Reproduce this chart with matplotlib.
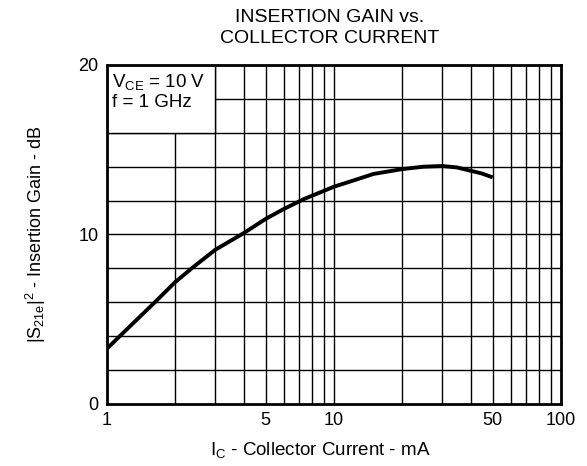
import matplotlib
matplotlib.use("Agg")
import matplotlib.pyplot as plt
from matplotlib.patches import Rectangle

plt.rcParams['font.family'] = ['Liberation Sans', 'DejaVu Sans']
plt.rcParams['mathtext.fontset'] = 'custom'
plt.rcParams['mathtext.rm'] = 'Liberation Sans'
plt.rcParams['mathtext.it'] = 'Liberation Sans'

# curve
ic_ma = [1, 1.3, 1.63, 2, 2.4, 3, 4, 5, 6, 7.4, 10, 12.6, 14.9, 20, 24.8, 30, 34.7, 40, 44.8, 50]
gain_db = [3.27, 4.75, 6.02, 7.2, 8.08, 9.1, 10.08, 10.92, 11.5, 12.1, 12.82, 13.25, 13.57,
           13.86, 14.0, 14.04, 13.96, 13.76, 13.6, 13.37]

x_ticks = [1, 5, 10, 50, 100]
x_grid = [2, 3, 4, 5, 6, 7, 8, 9, 10, 20, 30, 40, 50, 60, 70, 80, 90]
y_ticks = [0, 10, 20]
y_grid = [2, 4, 6, 8, 10, 12, 14, 16, 18]

fig = plt.figure(figsize=(5.87, 4.66), dpi=100)
ax = fig.add_axes([107/587, 1-404/466, (561-107)/587, (404-65)/466])
ax.set_xscale('log')
ax.set_xlim(1, 100)
ax.set_ylim(0, 20)

for xv in x_grid:
    ax.axvline(xv, color='black', lw=1.0, zorder=1)
for yv in y_grid:
    ax.axhline(yv, color='black', lw=1.0, zorder=1)

# white box behind the conditions text
ax.add_patch(Rectangle((1, 16), 2, 4, facecolor='white', edgecolor='black', lw=1.0, zorder=2))
ax.text(1.05, 19.6, r'V$_{\mathregular{CE}}$ = 10 V' + '\n' + 'f = 1 GHz', fontsize=13.5,
        va='top', ha='left', linespacing=1.2, zorder=3)

ax.plot(ic_ma, gain_db, color='black', lw=2.8, zorder=4, solid_capstyle='butt')

ax.set_xticks(x_ticks)
ax.set_xticklabels([str(v) for v in x_ticks])
ax.xaxis.set_minor_locator(matplotlib.ticker.NullLocator())
ax.set_yticks(y_ticks)
ax.tick_params(length=0, labelsize=13, pad=6)
for s in ax.spines.values():
    s.set_linewidth(2.0)

ax.set_xlabel(r'I$_{\mathregular{C}}$ - Collector Current - mA', fontsize=13.5, labelpad=8)
ax.xaxis.label.set_x(0.47)
ax.set_ylabel(r'|S$_{\mathregular{21e}}$|$^{\mathregular{2}}$ - Insertion Gain - dB', fontsize=13, labelpad=22)

fig.text(330/587, 1-28/466, 'INSERTION GAIN vs.\nCOLLECTOR CURRENT', ha='center', va='center',
         fontsize=14, linespacing=1.25)

fig.savefig('out.png', dpi=100)
